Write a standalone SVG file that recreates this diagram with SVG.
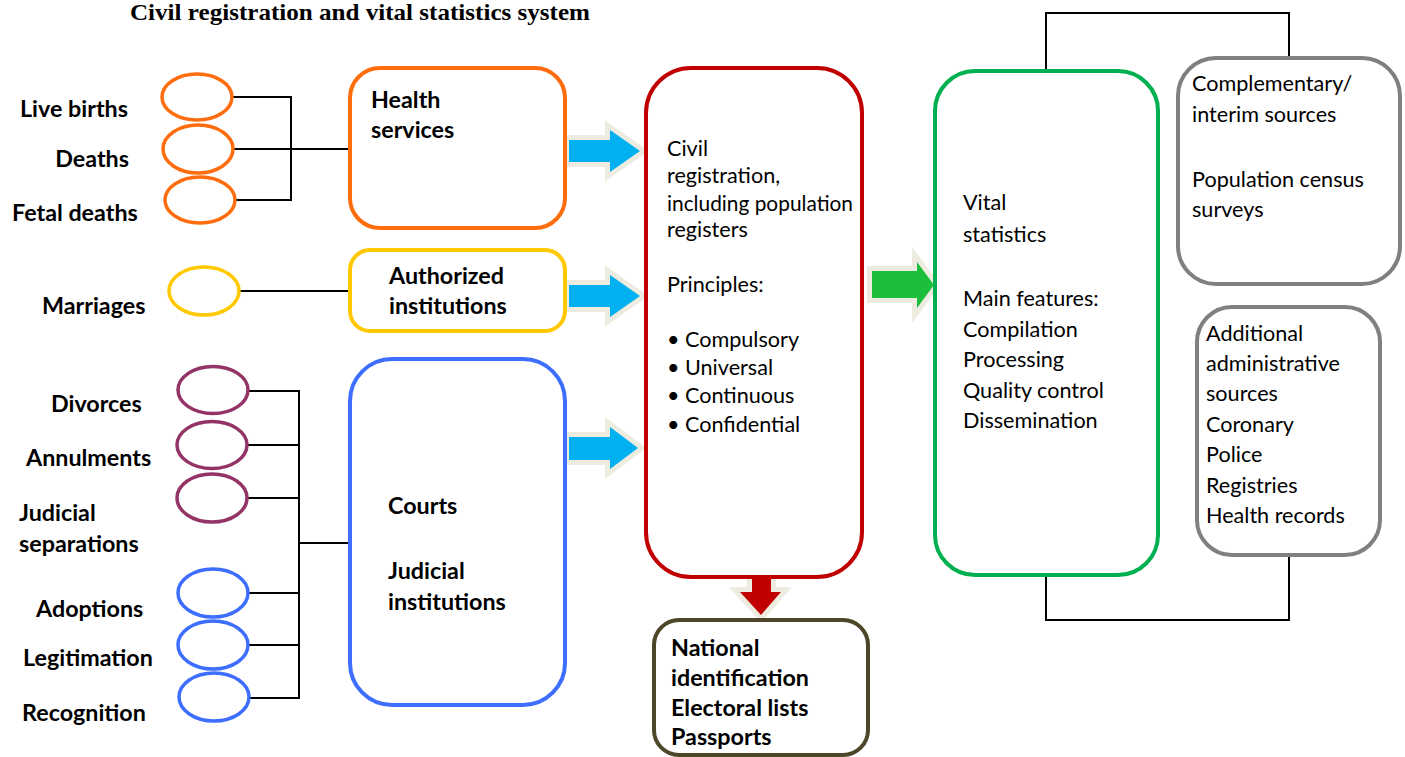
<svg xmlns="http://www.w3.org/2000/svg" width="1405" height="757" viewBox="0 0 1405 757">
<style>
.lbl{font-family:Lato,"Liberation Sans",sans-serif;font-weight:bold;font-size:23.3px;fill:#000}
.txt{font-family:Lato,"Liberation Sans",sans-serif;font-size:21.6px;fill:#000}
.title{font-family:"Liberation Serif",serif;font-weight:bold;font-size:24px;fill:#000}
.box{fill:#fff;stroke-width:4}
.ell{fill:#fff;stroke-width:3.5}
.line{fill:none;stroke:#000;stroke-width:2}
.arr{stroke:#EEECE1;stroke-width:10;paint-order:stroke;stroke-linejoin:miter}
</style>
<rect width="1405" height="757" fill="#fff"/>
<text class="title" x="130" y="20" textLength="460" lengthAdjust="spacingAndGlyphs">Civil registration and vital statistics system</text>

<g id="connectors">
  <polyline class="line" points="232,97 291,97 291,200 235,200"/>
  <line class="line" x1="233" y1="149" x2="350" y2="149"/>
  <line class="line" x1="240" y1="291" x2="350" y2="291"/>
  <polyline class="line" points="248,391 299,391 299,698 250,698"/>
  <line class="line" x1="248" y1="445" x2="299" y2="445"/>
  <line class="line" x1="248" y1="498" x2="299" y2="498"/>
  <line class="line" x1="248" y1="593" x2="299" y2="593"/>
  <line class="line" x1="248" y1="645" x2="299" y2="645"/>
  <line class="line" x1="299" y1="543" x2="350" y2="543"/>
  <polyline class="line" points="1046,71 1046,13 1289,13 1289,58"/>
  <polyline class="line" points="1046,575 1046,620 1289,620 1289,555"/>
  <polygon class="arr" fill="#00B0F0" points="569,140 610,140 610,130 640,151 610,172 610,162 569,162"/>
  <polygon class="arr" fill="#00B0F0" points="569,285 610,285 610,275 640,296 610,317 610,307 569,307"/>
  <polygon class="arr" fill="#00B0F0" points="569,437 610,437 610,427 638,448 610,469 610,460 569,460"/>
  <polygon class="arr" fill="#1BBF3C" points="872,271 917,271 917,262 934,285 917,308 917,298 872,298"/>
  <polygon class="arr" fill="#C00000" points="752,579 771,579 771,592 781,592 761,615 740,592 752,592"/>
</g>

<g id="live-births">
  <ellipse class="ell" cx="197" cy="97" rx="35" ry="23" stroke="#FF6D0F"/>
  <text class="lbl" x="20" y="117">Live births</text>
</g>
<g id="deaths">
  <ellipse class="ell" cx="198" cy="149" rx="35" ry="24" stroke="#FF6D0F"/>
  <text class="lbl" x="129" y="167" text-anchor="end">Deaths</text>
</g>
<g id="fetal-deaths">
  <ellipse class="ell" cx="200" cy="200" rx="35" ry="23" stroke="#FF6D0F"/>
  <text class="lbl" x="12" y="221">Fetal deaths</text>
</g>
<g id="marriages">
  <ellipse class="ell" cx="204" cy="291" rx="35" ry="24" stroke="#FFC800"/>
  <text class="lbl" x="42" y="314">Marriages</text>
</g>
<g id="divorces">
  <ellipse class="ell" cx="213" cy="390" rx="35" ry="23.5" stroke="#943366"/>
  <text class="lbl" x="51" y="412">Divorces</text>
</g>
<g id="annulments">
  <ellipse class="ell" cx="212" cy="445" rx="35" ry="23.5" stroke="#943366"/>
  <text class="lbl" x="26" y="466">Annulments</text>
</g>
<g id="judicial-separations">
  <ellipse class="ell" cx="212" cy="498" rx="35" ry="24" stroke="#943366"/>
  <text class="lbl" x="19" y="521">Judicial</text>
  <text class="lbl" x="19" y="552">separations</text>
</g>
<g id="adoptions">
  <ellipse class="ell" cx="213" cy="593" rx="35" ry="24" stroke="#3D6EFF"/>
  <text class="lbl" x="36" y="617">Adoptions</text>
</g>
<g id="legitimation">
  <ellipse class="ell" cx="213" cy="645" rx="35" ry="24" stroke="#3D6EFF"/>
  <text class="lbl" x="23" y="666">Legitimation</text>
</g>
<g id="recognition">
  <ellipse class="ell" cx="214" cy="697" rx="35" ry="24" stroke="#3D6EFF"/>
  <text class="lbl" x="22" y="721">Recognition</text>
</g>

<g id="health-services">
  <rect class="box" x="350" y="68" width="215" height="160" rx="30" stroke="#FF6D0F"/>
  <text class="lbl" x="371" y="108">Health</text>
  <text class="lbl" x="371" y="138">services</text>
</g>
<g id="authorized-institutions">
  <rect class="box" x="350" y="250" width="215" height="81" rx="20" stroke="#FFC800"/>
  <text class="lbl" x="389" y="284">Authorized</text>
  <text class="lbl" x="389" y="314">institutions</text>
</g>
<g id="courts">
  <rect class="box" x="350" y="359" width="215" height="346" rx="42" stroke="#3D6EFF"/>
  <text class="lbl" x="388" y="514">Courts</text>
  <text class="lbl" x="388" y="579">Judicial</text>
  <text class="lbl" x="388" y="610">institutions</text>
</g>

<g id="civil-registration">
  <rect class="box" x="646" y="68" width="216" height="509" rx="45" stroke="#C00000"/>
  <text class="txt" x="667" y="156">Civil</text>
  <text class="txt" x="667" y="183">registration,</text>
  <text class="txt" x="667" y="211" textLength="186" lengthAdjust="spacingAndGlyphs">including population</text>
  <text class="txt" x="667" y="237">registers</text>
  <text class="txt" x="667" y="292">Principles:</text>
  <text class="txt" x="667" y="347">•</text><text class="txt" x="685" y="347">Compulsory</text>
  <text class="txt" x="667" y="375">•</text><text class="txt" x="685" y="375">Universal</text>
  <text class="txt" x="667" y="403">•</text><text class="txt" x="685" y="403">Continuous</text>
  <text class="txt" x="667" y="432">•</text><text class="txt" x="685" y="432">Confidential</text>
</g>

<g id="national-identification">
  <rect class="box" x="654" y="620" width="214" height="135" rx="25" stroke="#4D4629"/>
  <text class="lbl" x="671" y="656">National</text>
  <text class="lbl" x="671" y="686">identification</text>
  <text class="lbl" x="671" y="716">Electoral lists</text>
  <text class="lbl" x="671" y="745">Passports</text>
</g>

<g id="vital-statistics">
  <rect class="box" x="935" y="71" width="223" height="504" rx="40" stroke="#00B050"/>
  <text class="txt" x="963" y="210">Vital</text>
  <text class="txt" x="963" y="242">statistics</text>
  <text class="txt" x="963" y="306">Main features:</text>
  <text class="txt" x="963" y="337">Compilation</text>
  <text class="txt" x="963" y="367">Processing</text>
  <text class="txt" x="963" y="398">Quality control</text>
  <text class="txt" x="963" y="428">Dissemination</text>
</g>

<g id="complementary-sources">
  <rect class="box" x="1178" y="58" width="222" height="226" rx="38" stroke="#808080" stroke-width="3"/>
  <text class="txt" x="1192" y="91">Complementary/</text>
  <text class="txt" x="1192" y="122">interim sources</text>
  <text class="txt" x="1192" y="187">Population census</text>
  <text class="txt" x="1192" y="217">surveys</text>
</g>

<g id="administrative-sources">
  <rect class="box" x="1197" y="307" width="183" height="248" rx="35" stroke="#808080" stroke-width="3"/>
  <text class="txt" x="1206" y="341">Additional</text>
  <text class="txt" x="1206" y="371">administrative</text>
  <text class="txt" x="1206" y="401">sources</text>
  <text class="txt" x="1206" y="432">Coronary</text>
  <text class="txt" x="1206" y="462">Police</text>
  <text class="txt" x="1206" y="493">Registries</text>
  <text class="txt" x="1206" y="523">Health records</text>
</g>
</svg>
